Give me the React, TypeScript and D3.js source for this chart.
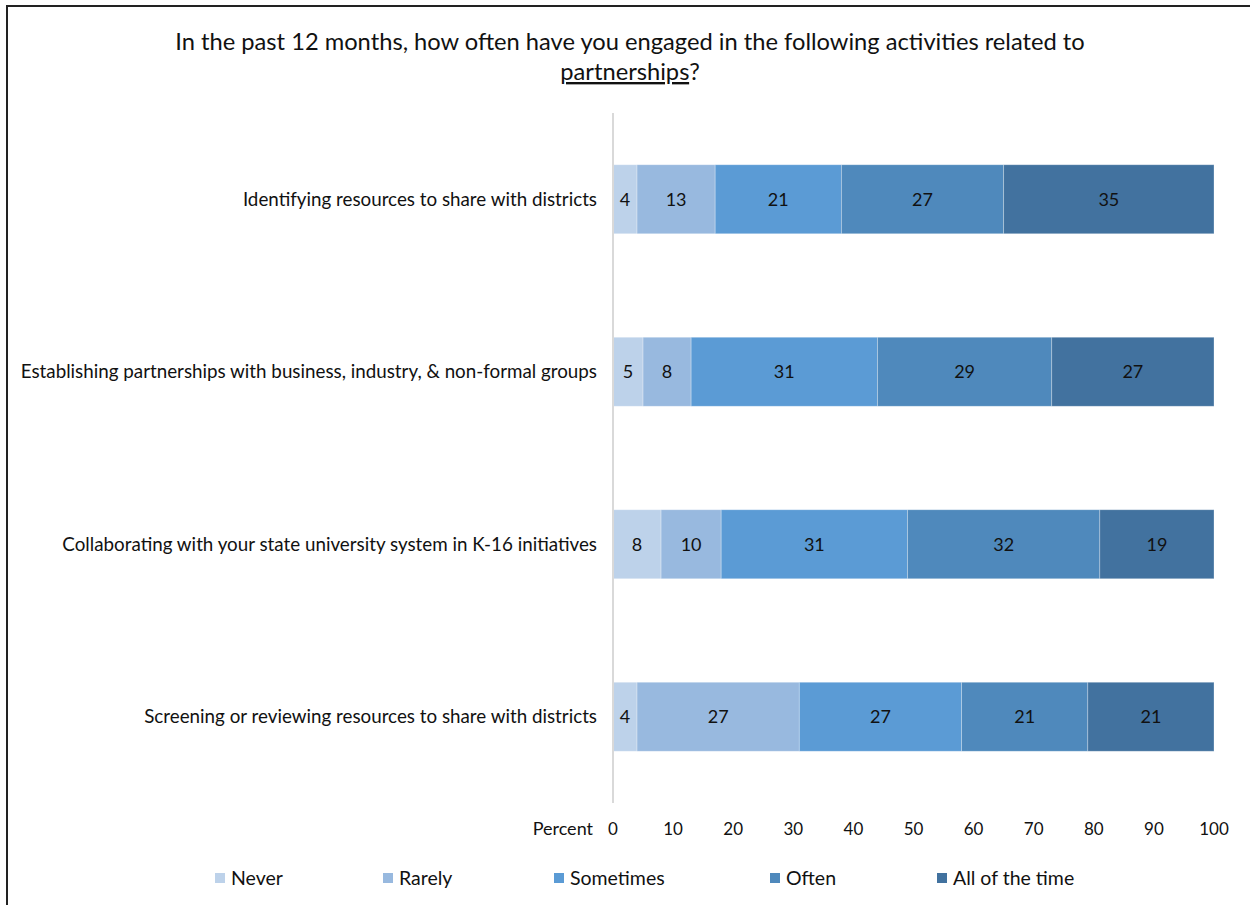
import React, { useEffect, useRef } from 'react';
import * as d3 from 'd3';

// survey questions (top to bottom)
const activities = [
  'Identifying resources to share with districts',
  'Establishing partnerships with business, industry, & non-formal groups',
  'Collaborating with your state university system in K-16 initiatives',
  'Screening or reviewing resources to share with districts',
];

const responses = ['Never', 'Rarely', 'Sometimes', 'Often', 'All of the time'];

const never = [4, 5, 8, 4];
const rarely = [13, 8, 10, 27];
const sometimes = [21, 31, 31, 27];
const often = [27, 29, 32, 21];
const allTheTime = [35, 27, 19, 21];

const xTicks = [0, 10, 20, 30, 40, 50, 60, 70, 80, 90, 100];

const colors = ['#bdd2ea', '#98b9df', '#5b9bd5', '#4f89bc', '#42729f'];

const FONT = 'Lato, "Open Sans", sans-serif';

function App() {
  const svgRef = useRef<SVGSVGElement>(null);

  useEffect(() => {
    const width = 1250;
    const height = 905;
    const margin = { top: 113, right: 36, bottom: 102, left: 613 };

    const svg = d3.select(svgRef.current);
    svg.selectAll('*').remove();

    svg.attr('width', width).attr('height', height);

    // chart frame (only top and left edges show)
    svg.append('line')
      .attr('x1', 7).attr('x2', width).attr('y1', 6).attr('y2', 6)
      .attr('stroke', '#222').attr('stroke-width', 2);
    svg.append('line')
      .attr('x1', 7).attr('x2', 7).attr('y1', 5).attr('y2', height)
      .attr('stroke', '#222').attr('stroke-width', 2);

    // title
    const title = svg.append('text')
      .attr('text-anchor', 'middle')
      .attr('font-family', FONT)
      .attr('font-size', 23.7)
      .attr('fill', '#111');
    title.append('tspan')
      .attr('x', 630).attr('y', 50)
      .text('In the past 12 months, how often have you engaged in the following activities related to');
    const t2 = title.append('tspan').attr('x', 630).attr('y', 80);
    t2.append('tspan').attr('text-decoration', 'underline').text('partnerships');
    t2.append('tspan').text('?');

    const rows = activities.map((a, i) => ({
      activity: a,
      Never: never[i],
      Rarely: rarely[i],
      Sometimes: sometimes[i],
      Often: often[i],
      'All of the time': allTheTime[i],
    }));

    const x = d3.scaleLinear()
      .domain([0, 100])
      .range([margin.left, width - margin.right]);

    const y = d3.scaleBand()
      .domain(activities)
      .range([margin.top, height - margin.bottom])
      .paddingInner(0.6)
      .paddingOuter(0.3);

    const stack = d3.stack<any>().keys(responses);
    const series = stack(rows);

    const color = d3.scaleOrdinal<string>().domain(responses).range(colors);

    const g = svg.append('g');
    series.forEach((s) => {
      const layer = g.append('g').attr('fill', color(s.key));
      layer.selectAll('rect')
        .data(s)
        .enter()
        .append('rect')
        .attr('x', (d) => x(d[0]))
        .attr('y', (d) => y(d.data.activity) as number)
        .attr('width', (d) => x(d[1]) - x(d[0]))
        .attr('height', y.bandwidth())
        .attr('stroke', '#ffffff')
        .attr('stroke-opacity', 0.35)
        .attr('stroke-width', 0.8);

      layer.selectAll('text')
        .data(s)
        .enter()
        .append('text')
        .attr('x', (d) => (x(d[0]) + x(d[1])) / 2)
        .attr('y', (d) => (y(d.data.activity) as number) + y.bandwidth() / 2)
        .attr('dy', '0.35em')
        .attr('text-anchor', 'middle')
        .attr('font-family', FONT)
        .attr('font-size', 18)
        .attr('fill', '#111')
        .text((d) => d[1] - d[0]);
    });

    // category labels
    svg.append('g')
      .selectAll('text')
      .data(activities)
      .enter()
      .append('text')
      .attr('x', margin.left - 16)
      .attr('y', (d) => (y(d) as number) + y.bandwidth() / 2)
      .attr('dy', '0.35em')
      .attr('text-anchor', 'end')
      .attr('font-family', FONT)
      .attr('font-size', 18.8)
      .attr('fill', '#111')
      .text((d) => d);

    // vertical axis line
    svg.append('line')
      .attr('x1', margin.left).attr('x2', margin.left)
      .attr('y1', margin.top).attr('y2', height - margin.bottom)
      .attr('stroke', '#d9d9d9').attr('stroke-width', 2);

    // x tick labels
    const tickY = height - margin.bottom + 26;
    svg.append('g')
      .selectAll('text')
      .data(xTicks)
      .enter()
      .append('text')
      .attr('x', (d) => x(d))
      .attr('y', tickY)
      .attr('dy', '0.35em')
      .attr('text-anchor', 'middle')
      .attr('font-family', FONT)
      .attr('font-size', 17)
      .attr('fill', '#111')
      .text((d) => d);

    svg.append('text')
      .attr('x', margin.left - 20)
      .attr('y', tickY)
      .attr('dy', '0.35em')
      .attr('text-anchor', 'end')
      .attr('font-family', FONT)
      .attr('font-size', 18)
      .attr('fill', '#111')
      .text('Percent');

    // legend
    const legendX = [215, 383, 554, 770, 937];
    const legendY = 878;
    const legend = svg.append('g')
      .selectAll('g')
      .data(responses)
      .enter()
      .append('g')
      .attr('transform', (d, i) => `translate(${legendX[i]},${legendY})`);
    legend.append('rect')
      .attr('x', 0).attr('y', -5)
      .attr('width', 10).attr('height', 10)
      .attr('fill', (d) => color(d));
    legend.append('text')
      .attr('x', 16)
      .attr('dy', '0.35em')
      .attr('font-family', FONT)
      .attr('font-size', 19.5)
      .attr('fill', '#111')
      .text((d) => d);
  }, []);

  return (
    <svg ref={svgRef} style={{ position: 'absolute', left: 0, top: 0, background: '#fff' }}></svg>
  );
}

export default App;
